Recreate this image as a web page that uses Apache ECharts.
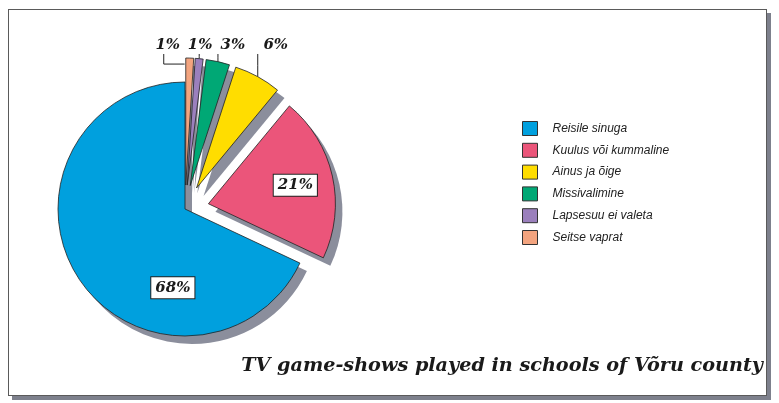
<!DOCTYPE html>
<html><head><meta charset="utf-8">
<script src="https://cdn.jsdelivr.net/npm/echarts@6/dist/echarts.min.js"></script>
<style>
html,body{margin:0;padding:0;background:#fff;}
#frame{position:absolute;left:8px;top:9px;width:757px;height:385px;border:1px solid #5a5a5a;box-shadow:4px 4px 0 #7d808c;background:#fff;}
#c{position:absolute;left:0;top:0;width:779px;height:403px;}
</style></head><body>
<div id="frame"></div><div id="c"></div>
<script>
// ---- data ----
const categories = ['Reisile sinuga','Kuulus või kummaline','Ainus ja õige','Missivalimine','Lapsesuu ei valeta','Seitse vaprat'];
const shares = [68, 21, 6, 3, 1, 1];
const exploded = [false, true, true, true, true, true];
const titleText = 'TV game-shows played in schools of Võru county';

// ---- styles / layout ----
const colors = ['#00a0de','#eb557a','#ffdd00','#00a875','#9b80bd','#f3a47f'];
const shadowColor = '#8b8e9c';
const PIE_CENTER = [185, 209];
const PIE_R = 127;
const OFFSET = 24;
const SHADOW_DX = 7, SHADOW_DY = 8;
const insideShift = [[44, 43], [22, -4]];
const smallShift = {2: 18, 3: 15, 4: 1, 5: -22};
const LABEL_ROW_Y = 45;
const serifFont = '"DejaVu Serif", serif';

const chart = echarts.init(document.getElementById('c'), null, {renderer: 'canvas'});

const mainData = categories.map((name, i) => ({
  name: name,
  value: shares[i],
  selected: exploded[i],
  itemStyle: {color: colors[i]},
  label: i < 2 ? {
    position: 'inside',
    backgroundColor: '#fff', borderColor: '#222', borderWidth: 1,
    padding: [4, 4, 2, 4]
  } : {position: 'outside'},
  labelLine: {show: i >= 2}
}));

const shadowData = categories.map((name, i) => ({
  name: name,
  value: shares[i],
  selected: exploded[i]
}));

function smallLabelLayout(p) {
  const i = p.dataIndex;
  if (i < 2) return {dx: insideShift[i][0], dy: insideShift[i][1]};
  const p0 = p.labelLinePoints[0];               // local (un-exploded) point on the arc
  const dir = [(p0[0] - PIE_CENTER[0]) / PIE_R, (p0[1] - PIE_CENTER[1]) / PIE_R];
  const off = [dir[0] * OFFSET, dir[1] * OFFSET];
  const g = [p0[0] + off[0], p0[1] + off[1]];      // global point on exploded arc
  const tx = g[0] + smallShift[i];
  const ty = LABEL_ROW_Y;
  const lr = p.labelRect;                          // local (before explode offset)
  const dx = (tx - off[0]) - (lr.x + lr.width / 2);
  const dy = (ty - off[1]) - (lr.y + lr.height / 2);
  let ptsG;
  if (i === 5) {
    const ex = tx - 4;
    const rectLeft = p.rect.x;
    ptsG = [[ex, ty + 9], [ex, g[1] + 6], [rectLeft, g[1] + 6]];
  } else {
    ptsG = [[g[0], ty + 9], [g[0], (ty + 9 + g[1]) / 2], [g[0], g[1]]];
  }
  const pts = ptsG.map(q => [q[0] - off[0], q[1] - off[1]]);
  return {dx: dx, dy: dy, labelLinePoints: pts};
}

chart.setOption({
  animation: false,
  title: {
    text: titleText,
    right: 11, top: 352,
    textStyle: {fontFamily: serifFont, fontStyle: 'italic', fontWeight: 'bold', fontSize: 19.2, color: '#1a1a1a'}
  },
  legend: {
    orient: 'vertical',
    left: 517, top: 116,
    itemWidth: 15, itemHeight: 14, itemGap: 6.8,
    selectedMode: false,
    icon: 'rect',
    data: categories,
    itemStyle: {borderColor: '#333', borderWidth: 1},
    textStyle: {fontFamily: '"Liberation Sans", Arial, sans-serif', fontStyle: 'italic', fontSize: 12, color: '#222', padding: [0, 0, 0, 10]}
  },
  series: [{
    type: 'pie',
    z: 3,
    center: PIE_CENTER,
    radius: PIE_R,
    startAngle: 90,
    clockwise: false,
    selectedMode: 'multiple',
    selectedOffset: OFFSET,
    silent: true,
    avoidLabelOverlap: false,
    itemStyle: {borderColor: '#222', borderWidth: 0.8},
    label: {
      formatter: p => p.value + '%',
      fontFamily: serifFont, fontStyle: 'italic', fontWeight: 'bold', fontSize: 15, color: '#1a1a1a'
    },
    labelLine: {length: 10, length2: 5, lineStyle: {color: '#222', width: 1}},
    labelLayout: smallLabelLayout,
    data: mainData
  }, {
    type: 'pie',
    z: 1,
    center: [PIE_CENTER[0] + SHADOW_DX, PIE_CENTER[1] + SHADOW_DY],
    radius: PIE_R,
    startAngle: 90,
    clockwise: false,
    selectedMode: 'multiple',
    selectedOffset: OFFSET,
    silent: true,
    itemStyle: {color: shadowColor, borderWidth: 0},
    label: {show: false},
    labelLine: {show: false},
    data: shadowData
  }]
});
</script>
</body></html>
